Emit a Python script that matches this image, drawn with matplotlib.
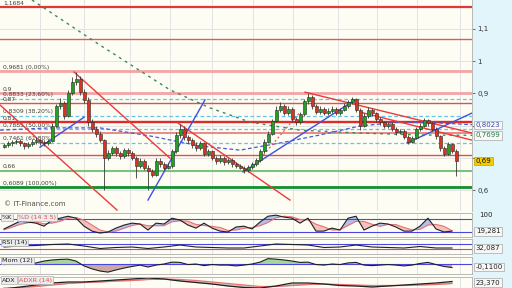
import numpy as np
import matplotlib.pyplot as plt
from matplotlib.patches import Rectangle

# ---- price bars (daily candles) ----
closes = [0.740, 0.745, 0.748, 0.752, 0.745, 0.738, 0.742, 0.750, 0.755, 0.748,
          0.745, 0.752, 0.800, 0.860, 0.870, 0.830, 0.900, 0.935, 0.945, 0.905,
          0.880, 0.810, 0.790, 0.775, 0.755, 0.700, 0.715, 0.730, 0.715, 0.705,
          0.725, 0.715, 0.700, 0.675, 0.690, 0.670, 0.660, 0.648, 0.690, 0.680,
          0.670, 0.675, 0.720, 0.770, 0.790, 0.765, 0.755, 0.740, 0.730, 0.745,
          0.712, 0.720, 0.700, 0.690, 0.700, 0.686, 0.692, 0.680, 0.676, 0.670,
          0.662, 0.672, 0.680, 0.692, 0.720, 0.750, 0.775, 0.815, 0.850, 0.860,
          0.840, 0.852, 0.820, 0.810, 0.835, 0.875, 0.890, 0.860, 0.842, 0.852,
          0.840, 0.846, 0.852, 0.840, 0.850, 0.862, 0.872, 0.882, 0.850, 0.800,
          0.830, 0.850, 0.838, 0.820, 0.810, 0.800, 0.806, 0.790, 0.780, 0.782,
          0.765, 0.750, 0.762, 0.790, 0.800, 0.818, 0.808, 0.790, 0.768, 0.730,
          0.712, 0.742, 0.722, 0.690]
highs = [0.746, 0.752, 0.756, 0.760, 0.758, 0.750, 0.748, 0.758, 0.764, 0.760,
         0.755, 0.760, 0.808, 0.868, 0.885, 0.878, 0.912, 0.950, 0.968, 0.955,
         0.915, 0.888, 0.820, 0.800, 0.782, 0.760, 0.724, 0.738, 0.736, 0.722,
         0.732, 0.730, 0.720, 0.706, 0.698, 0.696, 0.678, 0.666, 0.698, 0.700,
         0.688, 0.684, 0.728, 0.780, 0.805, 0.798, 0.772, 0.762, 0.748, 0.752,
         0.750, 0.728, 0.725, 0.706, 0.708, 0.705, 0.700, 0.698, 0.686, 0.682,
         0.675, 0.678, 0.686, 0.698, 0.728, 0.758, 0.782, 0.822, 0.860, 0.872,
         0.866, 0.860, 0.858, 0.826, 0.842, 0.882, 0.900, 0.894, 0.866, 0.860,
         0.858, 0.854, 0.860, 0.858, 0.856, 0.870, 0.880, 0.888, 0.886, 0.855,
         0.838, 0.858, 0.856, 0.842, 0.826, 0.815, 0.812, 0.810, 0.795, 0.790,
         0.788, 0.770, 0.768, 0.796, 0.808, 0.824, 0.822, 0.812, 0.795, 0.772,
         0.736, 0.748, 0.746, 0.726]
lows = [0.730, 0.735, 0.738, 0.742, 0.738, 0.728, 0.732, 0.736, 0.744, 0.740,
        0.738, 0.740, 0.748, 0.795, 0.852, 0.822, 0.826, 0.895, 0.925, 0.895,
        0.870, 0.800, 0.780, 0.765, 0.748, 0.600, 0.694, 0.708, 0.706, 0.696,
        0.700, 0.706, 0.692, 0.637, 0.668, 0.662, 0.600, 0.640, 0.644, 0.672,
        0.662, 0.664, 0.668, 0.715, 0.762, 0.755, 0.745, 0.732, 0.722, 0.724,
        0.705, 0.705, 0.692, 0.682, 0.684, 0.678, 0.680, 0.672, 0.668, 0.664,
        0.652, 0.656, 0.666, 0.675, 0.688, 0.715, 0.745, 0.770, 0.810, 0.842,
        0.832, 0.834, 0.812, 0.802, 0.805, 0.830, 0.868, 0.852, 0.835, 0.836,
        0.832, 0.834, 0.840, 0.832, 0.834, 0.845, 0.856, 0.866, 0.842, 0.785,
        0.795, 0.825, 0.830, 0.812, 0.802, 0.792, 0.794, 0.782, 0.772, 0.774,
        0.758, 0.744, 0.745, 0.758, 0.784, 0.795, 0.800, 0.784, 0.760, 0.722,
        0.706, 0.708, 0.716, 0.645]
first_open = 0.735

# ---- horizontal levels ----
level_prices = [1.1684, 1.069, 0.9681, 0.90, 0.87, 0.81, 0.777, 0.709, 0.66, 0.6089]
level_colors = ['#e03838', '#e05a5a', '#f3a4a4', '#f3a4a4', '#e05050', '#e02a2a',
                '#e86a6a', '#e05050', '#7cc27c', '#10902e']
level_widths = [1.6, 1.0, 2.0, 2.0, 1.0, 1.7, 1.1, 1.0, 1.5, 2.0]
level_texts = ['1,1684', '', '0,9681 (0,00%)', '0,9', '0,87', '0,81', '', '', '0,66',
               '0,6089 (100,00%)']
fib_prices = [0.8833, 0.8309, 0.7885, 0.7461]
fib_texts = ['0,8833 (23,60%)', '0,8309 (38,20%)', '0,7885 (50,00%)', '0,7461 (61,80%)']

# ---- trend lines: (bar, price) pairs ----
red_lines = [([17.5, 41.5], [0.9665, 0.699]),
             ([-1, 28.25], [0.864, 0.538]),
             ([43.5, 71.5], [0.808, 0.569]),
             ([75.25, 117], [0.904, 0.777]),
             ([89, 117], [0.842, 0.755])]
blue_lines = [([9, 20], [0.733, 0.826]),
              ([36, 50.25], [0.569, 0.880]),
              ([59.75, 87.75], [0.656, 0.880]),
              ([100.75, 117], [0.746, 0.839])]
red_dotted = [([62.75, 74], [0.678, 0.842])]

# moving averages
ma_long_x = [7, 24, 41.5, 51.5, 61.5, 74, 89, 104, 117]
ma_long_y = [1.19, 1.050, 0.911, 0.855, 0.811, 0.786, 0.777, 0.771, 0.770]
ma_mid_x = [-1, 11.5, 24, 36.5, 49, 59, 69, 79, 89, 99, 109, 117]
ma_mid_y = [0.786, 0.793, 0.793, 0.768, 0.737, 0.724, 0.746, 0.771, 0.799, 0.811, 0.808, 0.803]

# ---- indicators ----
stoch_k = [34, 52, 70, 66, 61, 47, 75, 84, 93, 84, 47, 24, 15, 20, 38, 52, 61, 57, 29, 61,
           57, 84, 75, 52, 38, 61, 38, 24, 20, 43, 47, 34, 66, 93, 98, 89, 84, 61, 84, 24,
           24, 38, 29, 84, 93, 29, 47, 61, 57, 43, 24, 24, 47, 84, 34, 20, 24]
stoch_d = [30, 42, 55, 63, 66, 58, 61, 69, 84, 87, 75, 52, 29, 20, 24, 37, 50, 57, 49, 49,
           49, 67, 72, 70, 55, 50, 46, 41, 27, 29, 37, 41, 49, 64, 86, 93, 90, 78, 76, 56,
           44, 29, 30, 50, 69, 69, 56, 46, 55, 54, 41, 30, 32, 52, 55, 46, 26]
mom = [-0.02, 0, 0.02, 0, 0.04, 0.11, 0.15, 0.17, 0.18, 0.11, -0.07, -0.18, -0.26, -0.30,
       -0.22, -0.15, -0.09, -0.04, -0.11, -0.04, 0, 0.07, 0.06, -0.02, 0, -0.06, -0.02,
       -0.04, -0.04, -0.07, -0.04, 0, 0.07, 0.20, 0.18, 0.15, 0.11, 0.06, 0.07, -0.02,
       -0.04, 0, -0.02, 0.04, 0.06, -0.04, -0.06, -0.04, -0.02, -0.04, -0.07, -0.04,
       0.02, 0.06, -0.02, -0.09, -0.13]
rsi = [46, 54, 58, 66, 70, 54, 34, 42, 46, 34, 46, 62, 46, 42, 38, 38, 54, 70, 66, 62,
       42, 46, 62, 46, 42, 38, 50, 38, 38]
adx = [8, 12, 16, 20, 22, 22, 24, 26, 28, 30, 28, 24, 21, 18, 14, 11, 10, 14, 20, 20,
       18, 15, 14, 12, 14, 16, 18, 20, 23]
adxr = [10, 11, 13, 16, 19, 21, 22, 24, 25, 27, 28, 27, 25, 22, 19, 16, 13, 13, 15, 17,
        18, 17, 16, 15, 15, 15, 16, 17, 19]

vgrid = [9, 20, 31.5, 41.5, 52, 62.25, 72.25, 83.5, 93.25, 103.25, 114]

bg = '#fdfdf4'
W = 472 / 512
fig = plt.figure(figsize=(5.12, 2.88), dpi=100, facecolor=bg)
fig.patches.append(Rectangle((W, 0), 1 - W, 1, transform=fig.transFigure,
                             color='#e2f5fb', zorder=-1))


def setup(a, top, bottom):
    a.set_position([0, 1 - bottom / 288, W, (bottom - top) / 288])
    a.set_facecolor(bg)
    a.set_xlim(-1, 117)
    a.set_xticks(vgrid)
    a.tick_params(axis='x', length=0, labelbottom=False)
    a.grid(axis='x', color='#e3e3e3', lw=0.7)
    a.set_axisbelow(True)
    a.spines['left'].set_visible(False)
    for s in ['top', 'bottom', 'right']:
        a.spines[s].set_color('#b8b8b8')
        a.spines[s].set_linewidth(0.7)


def rlabel(a, y, txt, color='#222222', fc='#f6f6f6', ec='#a8a8a8', x=1.008):
    a.text(x, y, txt, transform=a.get_yaxis_transform(), fontsize=5, color=color,
           va='center', ha='left', clip_on=False, zorder=10,
           bbox=dict(boxstyle='square,pad=0.2', fc=fc, ec=ec, lw=0.5))


def plabel(a, parts):
    x = 0.004
    for txt, col, w in parts:
        a.text(x, 0.93, txt, transform=a.transAxes, fontsize=4.6, color=col, va='top',
               ha='left', zorder=10,
               bbox=dict(boxstyle='square,pad=0.2', fc='#ececec', ec='#b0b0b0', lw=0.5))
        x += w


# ---- main price panel ----
ax = fig.add_axes([0, 0, 1, 1])
setup(ax, 0, 211)
ax.spines['top'].set_visible(False)
ax.spines['bottom'].set_visible(False)
ax.set_ylim(0.535, 1.19)
ax.yaxis.tick_right()
ax.set_yticks([0.6, 0.7, 0.8, 0.9, 1.0, 1.1])
ax.set_yticklabels(['0,6', '', '', '0,9', '1', '1,1'])
ax.tick_params(axis='y', length=2.5, width=0.5, pad=1.5, labelsize=5,
               colors='#333333')
ax.grid(axis='y', color='#e3e3e3', lw=0.7)

ytr = ax.get_yaxis_transform()
for p, c, lw, t in zip(level_prices, level_colors, level_widths, level_texts):
    ax.axhline(p, color=c, lw=lw, zorder=2)
    if t:
        ax.text(0.006, p + 0.005, t, transform=ytr, fontsize=4.3, color='#404040',
                va='bottom', ha='left', zorder=3)
for p, t in zip(fib_prices, fib_texts):
    ax.axhline(p, color='#62c4ec', lw=0.9, ls=(0, (3, 2)), zorder=2)
    ax.text(0.006, p + 0.005, t, transform=ytr, fontsize=4.3, color='#404040',
            va='bottom', ha='left', zorder=3)

ax.plot(ma_long_x, ma_long_y, color='#3a8a5a', lw=1.0, ls=(0, (2, 3)), zorder=3)
ax.plot(ma_mid_x, ma_mid_y, color='#4a5ad0', lw=0.9, ls=(0, (3, 2)), zorder=3)
for xs, ys in red_lines:
    ax.plot(xs, ys, color='#ec3a3a', lw=1.0, zorder=3)
for xs, ys in blue_lines:
    ax.plot(xs, ys, color='#4050e0', lw=1.0, zorder=3)
for xs, ys in red_dotted:
    ax.plot(xs, ys, color='#e85050', lw=0.9, ls=(0, (1.5, 2)), zorder=3)

c = np.array(closes)
o = np.array([first_open] + closes[:-1])
xb = np.arange(len(c))
up = c >= o
ax.vlines(xb, lows, highs, color='#3a3a3a', lw=0.6, zorder=4)
ax.bar(xb[up], np.maximum(c - o, 0.002)[up], bottom=o[up], width=0.75,
       color='#22a022', edgecolor='#2a2a2a', lw=0.4, zorder=5)
ax.bar(xb[~up], np.maximum(o - c, 0.002)[~up], bottom=c[~up], width=0.75,
       color='#d83222', edgecolor='#2a2a2a', lw=0.4, zorder=5)

rlabel(ax, 0.8023, '0,8023', color='#3a4aa8', fc='#f8f8f8')
rlabel(ax, 0.7699, '0,7699', color='#2a7a3a', fc='#f8f8f8')
rlabel(ax, 0.69, '0,69', color='#111111', fc='#f4cc00', ec='#c8a000')
ax.text(0.008, 0.535 + 0.012, '\u00a9 IT-Finance.com', transform=ytr, fontsize=5,
        color='#505050', va='bottom', ha='left', zorder=6)

# ---- stochastic ----
xs2 = np.arange(0, 114, 2)
a1 = fig.add_axes([0, 0, 1, 1])
setup(a1, 213, 237)
a1.set_ylim(-3.2, 108)
a1.set_yticks([])
a1.axhline(80, color='#4848e0', lw=0.8)
a1.axhline(20, color='#4848e0', lw=0.8)
k = np.array(stoch_k)
d = np.array(stoch_d)
a1.fill_between(xs2, k, d, where=k >= d, color='#8894e8', alpha=0.6, lw=0, interpolate=True)
a1.fill_between(xs2, k, d, where=k < d, color='#f2a8a8', alpha=0.7, lw=0, interpolate=True)
a1.plot(xs2, d, color='#e87070', lw=0.8)
a1.plot(xs2, k, color='#202020', lw=0.8)
plabel(a1, [('%K', '#202020', 0.034), ('%D (14 3 5)', '#e05050', 0)])
a1.text(1.015, 100, '100', transform=a1.get_yaxis_transform(), fontsize=5,
        color='#222222', va='center', clip_on=False)
rlabel(a1, 24, '19,281')

# ---- RSI ----
xs4 = np.arange(0, 114, 4)
a2 = fig.add_axes([0, 0, 1, 1])
setup(a2, 239, 254)
a2.set_ylim(-10, 110)
a2.set_yticks([])
a2.axhline(70, color='#4848e0', lw=0.8)
a2.axhline(30, color='#e04848', lw=0.8)
a2.plot(xs4, rsi, color='#202020', lw=0.8)
plabel(a2, [('RSI (14)', '#202020', 0)])
rlabel(a2, 36, '32,087')

# ---- Momentum ----
a3 = fig.add_axes([0, 0, 1, 1])
setup(a3, 257, 274)
a3.set_ylim(-0.37, 0.26)
a3.set_yticks([])
m = np.array(mom)
a3.fill_between(xs2, m, 0, where=m >= 0, color='#a6d49c', lw=0, interpolate=True)
a3.fill_between(xs2, m, 0, where=m < 0, color='#cba8a4', lw=0, interpolate=True)
a3.axhline(0, color='#4848e0', lw=0.8)
a3.plot(xs2, m, color='#202020', lw=0.8)
plabel(a3, [('Mom (12)', '#202020', 0)])
rlabel(a3, -0.11, '-0,1100')

# ---- ADX ----
a4 = fig.add_axes([0, 0, 1, 1])
setup(a4, 277, 288)
a4.spines['bottom'].set_visible(False)
a4.set_ylim(10, 32)
a4.set_yticks([])
a4.fill_between(xs4, adx, adxr, color='#a8a8a8', alpha=0.7, lw=0)
a4.plot(xs4, adxr, color='#e87070', lw=0.9)
a4.plot(xs4, adx, color='#202020', lw=0.9)
plabel(a4, [('ADX', '#202020', 0.036), ('ADXR (14)', '#e05050', 0)])
rlabel(a4, 21, '23,370')

fig.savefig('out.png', dpi=100, facecolor=bg)
